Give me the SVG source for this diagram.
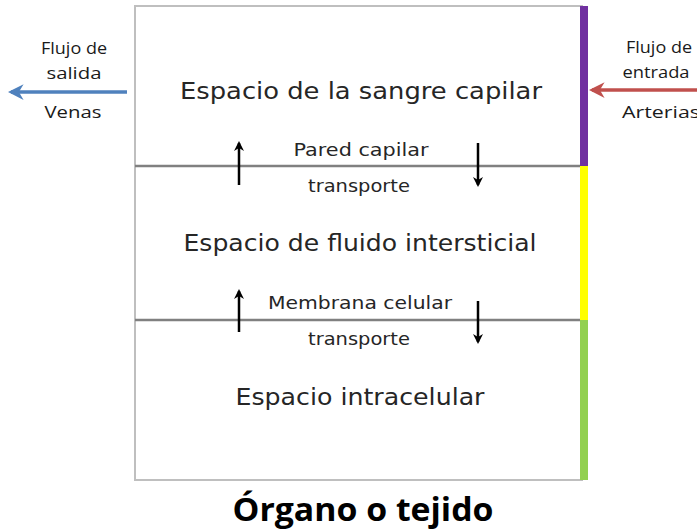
<svg xmlns="http://www.w3.org/2000/svg" width="697" height="531" viewBox="0 0 697 531">
<style>
.box{fill:#fff;stroke:#bfbfbf;stroke-width:2}
.div{stroke:#808080;stroke-width:2.5}
.big{font-family:"DejaVu Sans",sans-serif;font-size:23px;fill:#262626;text-anchor:middle}
.mid{font-family:"DejaVu Sans",sans-serif;font-size:17px;fill:#262626;text-anchor:middle}
.sm{font-family:"Open Sans","Liberation Sans",sans-serif;font-size:16px;fill:#1a1a1a;text-anchor:middle}
.title{font-family:"Open Sans","Liberation Sans",sans-serif;font-size:32px;font-weight:bold;fill:#000;text-anchor:middle}
.blk{stroke:#000;stroke-width:2.5;fill:none}
</style>
<defs>
<marker id="ab" viewBox="0 0 10 10" refX="8" refY="5" markerWidth="4" markerHeight="4" orient="auto" markerUnits="strokeWidth"><path d="M0,0 L10,5 L0,10 L3,5 Z" fill="#000"/></marker>
<marker id="ablue" viewBox="0 0 10 10" refX="8" refY="5" markerWidth="4.5" markerHeight="4.5" orient="auto" markerUnits="strokeWidth"><path d="M0,0 L10,5 L0,10 L3,5 Z" fill="#4f81bd"/></marker>
<marker id="ared" viewBox="0 0 10 10" refX="8" refY="5" markerWidth="4.5" markerHeight="4.5" orient="auto" markerUnits="strokeWidth"><path d="M0,0 L10,5 L0,10 L3,5 Z" fill="#c0504d"/></marker>
</defs>
<g id="organo">
<rect class="box" x="135" y="6" width="447" height="474"/>
<rect x="580" y="6" width="8" height="160" fill="#7030a0"/>
<rect x="580" y="166" width="8" height="154" fill="#ffff00"/>
<rect x="580" y="320" width="8" height="160" fill="#92d050"/>
<line class="div" x1="135" y1="166" x2="580" y2="166"/>
<line class="div" x1="135" y1="320" x2="580" y2="320"/>
<text class="title" x="363" y="521" textLength="261" lengthAdjust="spacingAndGlyphs">Órgano o tejido</text>
</g>
<g id="sangre"><text class="big" x="361" y="99" textLength="362" lengthAdjust="spacingAndGlyphs">Espacio de la sangre capilar</text></g>
<g id="fluido"><text class="big" x="360" y="251" textLength="353" lengthAdjust="spacingAndGlyphs">Espacio de fluido intersticial</text></g>
<g id="intracelular"><text class="big" x="360" y="405" textLength="249" lengthAdjust="spacingAndGlyphs">Espacio intracelular</text></g>
<g id="pared"><text class="mid" x="361" y="156" textLength="135" lengthAdjust="spacingAndGlyphs">Pared capilar</text><text class="mid" x="359" y="192" textLength="102" lengthAdjust="spacingAndGlyphs">transporte</text></g>
<g id="membrana"><text class="mid" x="360" y="309" textLength="184" lengthAdjust="spacingAndGlyphs">Membrana celular</text><text class="mid" x="359" y="345" textLength="102" lengthAdjust="spacingAndGlyphs">transporte</text></g>
<g id="venas"><text class="sm" x="74" y="54" textLength="66" lengthAdjust="spacingAndGlyphs">Flujo de</text><text class="sm" x="74" y="79" textLength="55" lengthAdjust="spacingAndGlyphs">salida</text><text class="sm" x="73" y="118" style="font-size:17px" textLength="57" lengthAdjust="spacingAndGlyphs">Venas</text></g>
<g id="arterias"><text class="sm" x="659" y="53" textLength="66" lengthAdjust="spacingAndGlyphs">Flujo de</text><text class="sm" x="656" y="78" textLength="67" lengthAdjust="spacingAndGlyphs">entrada</text><text class="sm" x="622" y="118" style="font-size:17px;text-anchor:start" textLength="78" lengthAdjust="spacingAndGlyphs">Arterias</text></g>
<g id="connectors">
<line x1="127" y1="92" x2="11" y2="92" stroke="#4f81bd" stroke-width="3.5" marker-end="url(#ablue)"/>
<line x1="697" y1="90" x2="592" y2="90" stroke="#c0504d" stroke-width="3.5" marker-end="url(#ared)"/>
<line class="blk" x1="239" y1="185" x2="239" y2="143" marker-end="url(#ab)"/>
<line class="blk" x1="478" y1="143" x2="478" y2="185" marker-end="url(#ab)"/>
<line class="blk" x1="239" y1="332" x2="239" y2="291" marker-end="url(#ab)"/>
<line class="blk" x1="478" y1="301" x2="478" y2="342" marker-end="url(#ab)"/>
</g>
</svg>
